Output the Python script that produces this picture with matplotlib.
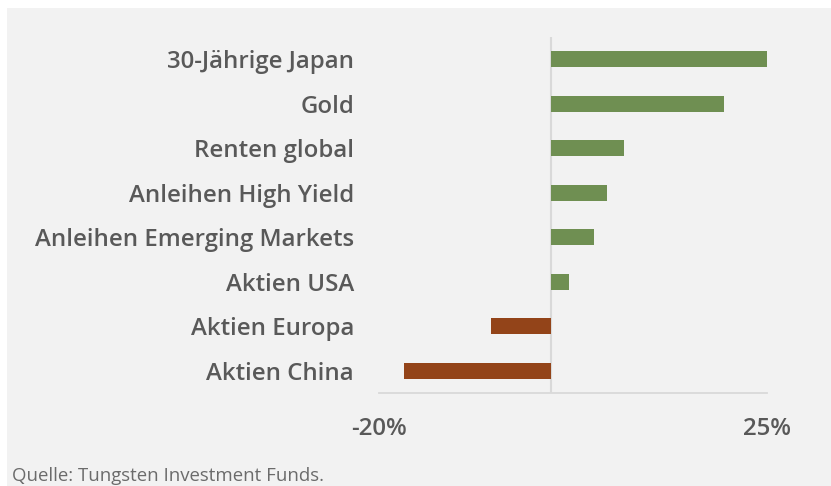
import matplotlib.pyplot as plt
from matplotlib.patches import Rectangle

kategorien = ['30-Jährige Japan', 'Gold', 'Renten global', 'Anleihen High Yield',
              'Anleihen Emerging Markets', 'Aktien USA', 'Aktien Europa', 'Aktien China']
werte = [25.0, 20.1, 8.4, 6.5, 4.9, 2.0, -7.0, -17.1]
ticks = [-20, 25]
tick_labels = ['-20%', '25%']

grau_bg = '#f2f2f2'
gruen = '#6f8f52'
braun = '#934419'
text_farbe = '#595959'

plt.rcParams['font.family'] = ['Open Sans', 'DejaVu Sans']

fig = plt.figure(figsize=(8.31, 4.86), dpi=100)
# grauer Hintergrund, oben und links ein schmaler weisser Rand
fig.patches.append(Rectangle((7 / 831, 0), 1, 1 - 8 / 486, transform=fig.transFigure,
                             facecolor=grau_bg, edgecolor='none', zorder=-10))

ax = fig.add_axes([379 / 831, 1 - 393 / 486, (766.7 - 379) / 831, (393 - 37) / 486])
ax.set_facecolor('none')

farben = [gruen if w >= 0 else braun for w in werte]
pos = list(range(len(kategorien)))
ax.barh(pos, werte, height=0.36, color=farben, zorder=2)

ax.set_xlim(-20, 25)
ax.set_ylim(len(kategorien) - 0.5, -0.5)
ax.axvline(0, color='#d9d9d9', lw=1.5, zorder=1)

for s in ['top', 'right', 'left']:
    ax.spines[s].set_visible(False)
ax.spines['bottom'].set_color('#d9d9d9')
ax.spines['bottom'].set_linewidth(1.3)

ax.set_yticks(pos)
ax.set_yticklabels(kategorien, fontsize=17.3, fontweight='semibold', color=text_farbe)
ax.set_xticks(ticks)
ax.set_xticklabels(tick_labels, fontsize=17.3, fontweight='semibold', color=text_farbe)
ax.tick_params(axis='x', length=0, pad=17)
ax.tick_params(axis='y', length=0, pad=18)

fig.text(12 / 831, 1 - 476 / 486, 'Quelle: Tungsten Investment Funds.', fontsize=13.4,
         color='#6b6b6b', va='center', ha='left')

fig.savefig('out.png', dpi=100)
